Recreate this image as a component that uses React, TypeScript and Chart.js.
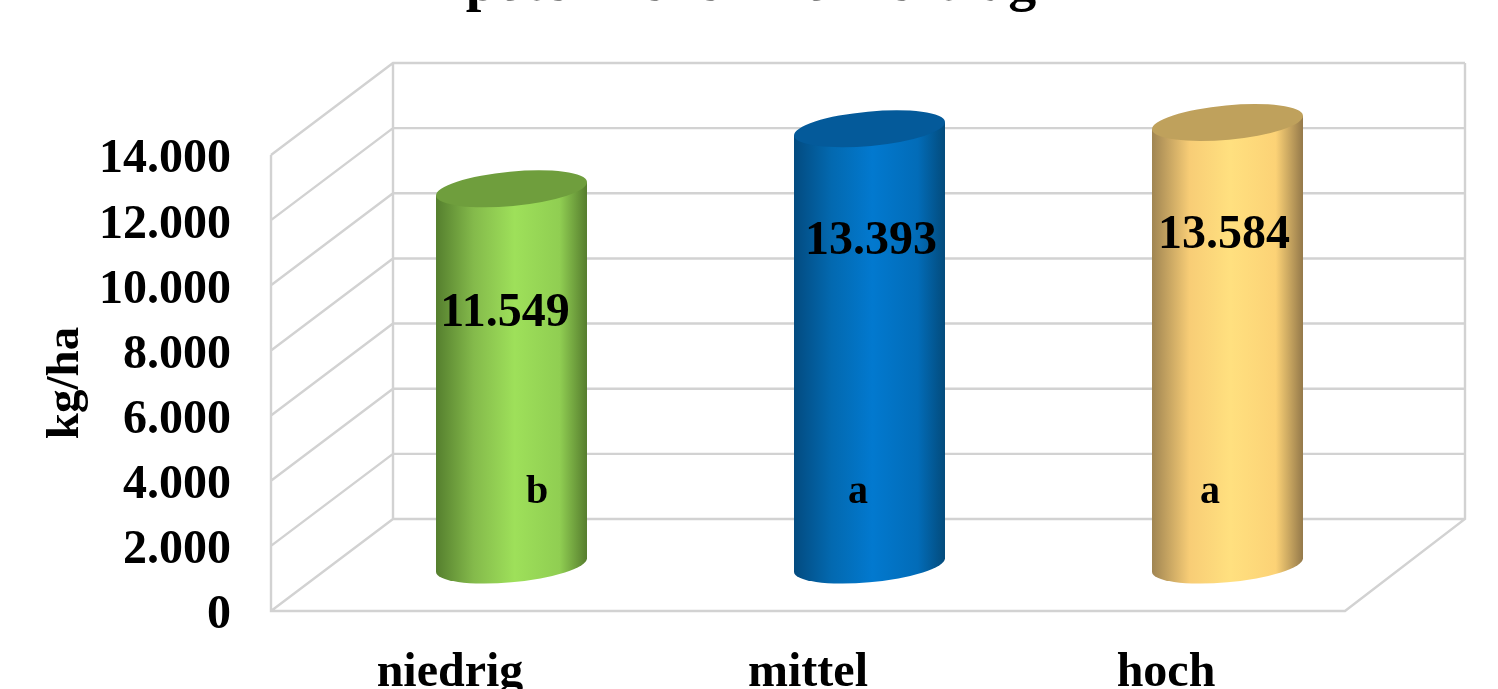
import React, { useEffect, useRef } from "react";
import { Chart, registerables, BarController, BarElement } from "chart.js";

const categories = ["niedrig", "mittel", "hoch"];
const yieldValues = [11549, 13393, 13584];
const significanceLetters = ["b", "a", "a"];
const chartTitle = "potenzieller Kornertrag";
const yAxisTitle = "kg/ha";

// Shading across each cylinder: [edge, shoulder, highlight, right shoulder, right edge, lid]
const cylinderShades = [
  ["#557f2e", "#84ba4b", "#9ee05a", "#90ce52", "#567d2e", "#6f9e3d"],
  ["#034b80", "#0369b0", "#0279cf", "#026cb8", "#034b7c", "#045a9a"],
  ["#a08552", "#f8cd76", "#ffe07f", "#fcd276", "#94794a", "#bfa15c"],
];

const SERIF = '"Liberation Serif", serif';
const DEPTH_X = 122;
const DEPTH_Y = 92;
const GRID_COLOR = "#d2d2d2";

const fmt = (v: number) => v.toLocaleString("de-DE");

// Cylinder standing mid-way in the depth of the floor, tilted lid and base
class CylinderBar extends BarElement {
  static id = "cylinderBar";
  static defaults = BarElement.defaults;
  static defaultRoutes = BarElement.defaultRoutes;

  draw(ctx: CanvasRenderingContext2D) {
    const { x, y, base, width } = (this as any).getProps(["x", "y", "base", "width"]);
    const shades = cylinderShades[(this as any).$context.dataIndex];
    const cx = x + DEPTH_X / 2 + 0.5;
    const top = y - DEPTH_Y / 2;
    const bottom = base - DEPTH_Y / 2;
    const a = width * 0.502;
    const b = width * 0.114;
    const rot = (-5.3 * Math.PI) / 180;
    const tr = Math.atan((b / a) * Math.tan(-rot));

    const g = ctx.createLinearGradient(cx - width / 2, 0, cx + width / 2, 0);
    g.addColorStop(0, shades[0]);
    g.addColorStop(0.25, shades[1]);
    g.addColorStop(0.52, shades[2]);
    g.addColorStop(0.82, shades[3]);
    g.addColorStop(1, shades[4]);

    const px = (t: number) => cx + a * Math.cos(t) * Math.cos(rot) - b * Math.sin(t) * Math.sin(rot);
    const py = (t: number, c: number) => c + a * Math.cos(t) * Math.sin(rot) + b * Math.sin(t) * Math.cos(rot);

    ctx.save();
    ctx.beginPath();
    ctx.ellipse(cx, bottom, a, b, rot, tr, tr + Math.PI);
    ctx.lineTo(px(tr + Math.PI), py(tr + Math.PI, top));
    ctx.lineTo(px(tr), py(tr, top));
    ctx.closePath();
    ctx.fillStyle = g;
    ctx.fill();

    ctx.beginPath();
    ctx.ellipse(cx, top, a, b, rot, 0, Math.PI * 2);
    ctx.fillStyle = shades[5];
    ctx.fill();
    ctx.restore();
  }
}

class CylinderController extends BarController {
  static id = "cylinder";
  static defaults = { ...BarController.defaults, dataElementType: "cylinderBar" };
  static overrides = BarController.overrides;
}

Chart.register(...registerables, CylinderBar, CylinderController);

// Side wall, back wall and floor of the 3D box, built from the y scale's ticks
const boxWalls = {
  id: "boxWalls",
  beforeDatasetsDraw(chart: any) {
    const { ctx, chartArea: area, scales } = chart;
    const y = scales.y;
    const l = area.left;
    const r = area.right;
    ctx.save();
    ctx.strokeStyle = GRID_COLOR;
    ctx.lineWidth = 2.4;
    ctx.beginPath();
    y.ticks.forEach((t: any) => {
      const py = y.getPixelForValue(t.value);
      ctx.moveTo(l, py);
      ctx.lineTo(l + DEPTH_X, py - DEPTH_Y);
      ctx.lineTo(r + DEPTH_X - 2, py - DEPTH_Y);
    });
    const top = area.top;
    const bot = area.bottom;
    ctx.moveTo(l, top);
    ctx.lineTo(l, bot);
    ctx.lineTo(r, bot);
    ctx.lineTo(r + DEPTH_X - 2, bot - DEPTH_Y);
    ctx.lineTo(r + DEPTH_X - 2, top - DEPTH_Y);
    ctx.moveTo(l + DEPTH_X, top - DEPTH_Y);
    ctx.lineTo(l + DEPTH_X, bot - DEPTH_Y);
    ctx.stroke();
    ctx.restore();
  },
};

// Heading, value labels and significance letters
const annotations = {
  id: "annotations",
  afterDatasetsDraw(chart: any) {
    const { ctx } = chart;
    const bars = chart.getDatasetMeta(0).data;
    ctx.save();
    ctx.fillStyle = "#000";
    ctx.textAlign = "center";
    ctx.textBaseline = "alphabetic";
    ctx.font = `bold 56px ${SERIF}`;
    ctx.fillText(chartTitle, 751, 0);

    ctx.textBaseline = "middle";
    const valueShift = [[55, 125], [63, 113], [58, 113]];
    const letterShift = [[87], [50], [44]];
    bars.forEach((bar: any, i: number) => {
      ctx.font = `bold 48px ${SERIF}`;
      ctx.fillText(fmt(yieldValues[i]), bar.x + valueShift[i][0], bar.y - DEPTH_Y / 2 + valueShift[i][1]);
      ctx.font = `bold 40px ${SERIF}`;
      ctx.fillText(significanceLetters[i], bar.x + letterShift[i][0], bar.base - 118);
    });
    ctx.restore();
  },
};

export default function App() {
  const ref = useRef<HTMLCanvasElement>(null);

  useEffect(() => {
    const chart = new Chart(ref.current as HTMLCanvasElement, {
      type: "cylinder" as any,
      data: {
        labels: categories,
        datasets: [
          {
            data: yieldValues,
            backgroundColor: cylinderShades.map((s) => s[2]),
            barPercentage: 0.4218,
            categoryPercentage: 1,
            clip: false,
          } as any,
        ],
      },
      options: {
        animation: false,
        responsive: false,
        layout: { padding: { top: 155, right: 153, left: 0, bottom: 0 } },
        plugins: { legend: { display: false }, tooltip: { enabled: false }, title: { display: false } },
        scales: {
          x: {
            type: "category",
            grid: { display: false, drawTicks: false },
            border: { display: false },
            afterFit: (s: any) => {
              s.height = 78;
            },
            ticks: {
              color: "#000",
              padding: 34,
              font: { family: "Liberation Serif", weight: "bold", size: 48 },
              autoSkip: false,
              maxRotation: 0,
            },
          },
          y: {
            type: "linear",
            min: 0,
            max: 14000,
            grid: { display: false, drawTicks: false },
            border: { display: false },
            afterFit: (s: any) => {
              s.width = 271;
            },
            title: {
              display: true,
              text: yAxisTitle,
              color: "#000",
              padding: { top: 38, bottom: 0 },
              font: { family: "Liberation Serif", weight: "bold", size: 47 },
            },
            ticks: {
              stepSize: 2000,
              color: "#000",
              padding: 40,
              labelOffset: 5,
              font: { family: "Liberation Serif", weight: "bold", size: 48 },
              callback: (v: any) => fmt(Number(v)),
            },
          },
        },
      } as any,
      plugins: [boxWalls, annotations],
    });
    return () => chart.destroy();
  }, []);

  return (
    <canvas
      ref={ref}
      width={1498}
      height={689}
      style={{ position: "absolute", left: 0, top: 0, display: "block", background: "#fff" }}
    />
  );
}
